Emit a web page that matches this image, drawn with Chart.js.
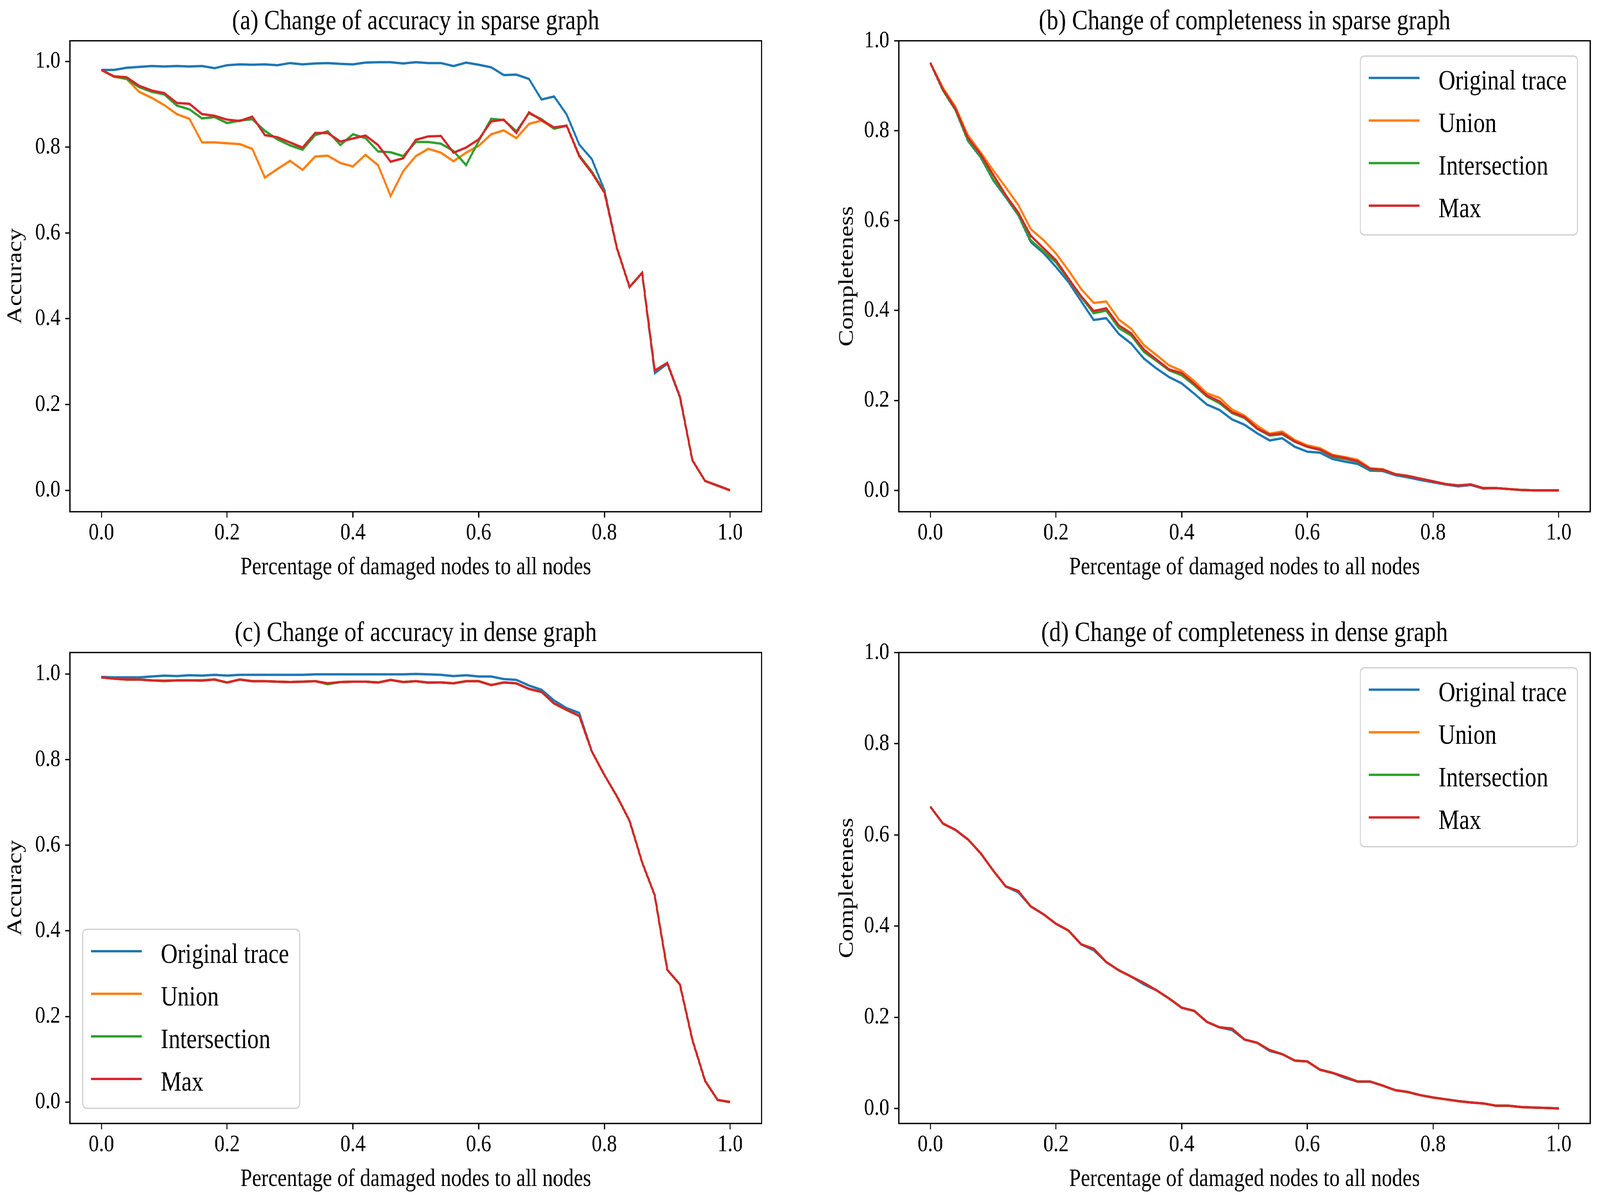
<!DOCTYPE html>
<html>
<head>
<meta charset="utf-8">
<script src="https://cdn.jsdelivr.net/npm/chart.js@4.4.1/dist/chart.umd.min.js"></script>
<style>
  html, body { margin: 0; padding: 0; background: #fff; overflow: hidden; }
  #page { position: absolute; left: 0; top: 0; width: 4895px; height: 3077px; background: #fff; transform-origin: 0 0; }
  canvas { position: absolute; }
</style>
</head>
<body>
<div id="page">
  <canvas id="panelA" width="2440" height="1560" style="left:0px;top:0px"></canvas>
  <canvas id="panelB" width="2455" height="1560" style="left:2440px;top:0px"></canvas>
  <canvas id="panelC" width="2440" height="1511" style="left:0px;top:1566px"></canvas>
  <canvas id="panelD" width="2455" height="1511" style="left:2440px;top:1566px"></canvas>
</div>
<script>
// fit the 4895 x 3077 page into the visible window
const scaleX = window.innerWidth / 4895;
const scaleY = window.innerHeight / 3077;
document.getElementById("page").style.transform = `scale(${scaleX}, ${scaleY})`;

// x values: share of damaged nodes
const damageRatio = [0.00, 0.02, 0.04, 0.06, 0.08, 0.10, 0.12, 0.14, 0.16, 0.18,
    0.20, 0.22, 0.24, 0.26, 0.28, 0.30, 0.32, 0.34, 0.36, 0.38,
    0.40, 0.42, 0.44, 0.46, 0.48, 0.50, 0.52, 0.54, 0.56, 0.58,
    0.60, 0.62, 0.64, 0.66, 0.68, 0.70, 0.72, 0.74, 0.76, 0.78,
    0.80, 0.82, 0.84, 0.86, 0.88, 0.90, 0.92, 0.94, 0.96, 0.98, 1.00];

const xTicks = [0.0, 0.2, 0.4, 0.6, 0.8, 1.0];
const yTicks = [0.0, 0.2, 0.4, 0.6, 0.8, 1.0];

const seriesNames = ["Original trace", "Union", "Intersection", "Max"];
const seriesColors = ["#1f77b4", "#ff7f0e", "#2ca02c", "#d62728"];

// (a) accuracy, sparse graph
const sparseAccOriginal = [0.980, 0.980, 0.985, 0.987, 0.989, 0.988, 0.989, 0.988, 0.989, 0.984,
    0.991, 0.993, 0.992, 0.993, 0.991, 0.996, 0.993, 0.995, 0.996, 0.994,
    0.993, 0.997, 0.998, 0.998, 0.995, 0.998, 0.996, 0.996, 0.989, 0.997,
    0.992, 0.986, 0.968, 0.969, 0.959, 0.911, 0.918, 0.876, 0.806, 0.772,
    0.700, 0.565, 0.474, 0.507, 0.273, 0.295, 0.217, 0.070, 0.022, 0.011, 0.000];
const sparseAccUnion = [0.980, 0.964, 0.959, 0.929, 0.915, 0.898, 0.877, 0.866, 0.811, 0.811,
    0.809, 0.807, 0.796, 0.729, 0.749, 0.768, 0.747, 0.778, 0.780, 0.763,
    0.755, 0.782, 0.758, 0.686, 0.744, 0.779, 0.796, 0.787, 0.767, 0.787,
    0.803, 0.830, 0.839, 0.821, 0.854, 0.862, 0.843, 0.850, 0.778, 0.741,
    0.694, 0.564, 0.474, 0.507, 0.279, 0.297, 0.219, 0.070, 0.022, 0.011, 0.000];
const sparseAccIntersection = [0.980, 0.965, 0.959, 0.940, 0.929, 0.923, 0.897, 0.888, 0.867, 0.870,
    0.856, 0.862, 0.865, 0.838, 0.818, 0.804, 0.794, 0.828, 0.837, 0.805,
    0.830, 0.821, 0.790, 0.788, 0.779, 0.812, 0.812, 0.808, 0.791, 0.758,
    0.814, 0.866, 0.863, 0.837, 0.879, 0.865, 0.843, 0.850, 0.781, 0.743,
    0.696, 0.564, 0.474, 0.507, 0.279, 0.297, 0.219, 0.070, 0.022, 0.011, 0.000];
const sparseAccMax = [0.980, 0.965, 0.963, 0.943, 0.932, 0.926, 0.903, 0.901, 0.877, 0.873,
    0.864, 0.861, 0.871, 0.828, 0.823, 0.811, 0.799, 0.833, 0.833, 0.813,
    0.820, 0.827, 0.805, 0.766, 0.774, 0.817, 0.825, 0.826, 0.787, 0.799,
    0.818, 0.860, 0.864, 0.833, 0.881, 0.863, 0.846, 0.850, 0.779, 0.740,
    0.694, 0.564, 0.474, 0.507, 0.279, 0.297, 0.219, 0.070, 0.022, 0.011, 0.000];

// (b) completeness, sparse graph
const sparseCompOriginal = [0.951, 0.890, 0.846, 0.777, 0.741, 0.690, 0.652, 0.612, 0.552, 0.528,
    0.497, 0.463, 0.421, 0.379, 0.383, 0.348, 0.326, 0.293, 0.271, 0.252,
    0.238, 0.215, 0.191, 0.179, 0.158, 0.146, 0.127, 0.111, 0.116, 0.097,
    0.086, 0.084, 0.070, 0.064, 0.059, 0.044, 0.043, 0.034, 0.029, 0.023,
    0.018, 0.013, 0.009, 0.012, 0.004, 0.005, 0.003, 0.001, 0.000, 0.000, 0.000];
const sparseCompUnion = [0.951, 0.896, 0.853, 0.790, 0.752, 0.712, 0.674, 0.635, 0.581, 0.557,
    0.527, 0.489, 0.448, 0.417, 0.420, 0.380, 0.359, 0.323, 0.301, 0.278,
    0.266, 0.243, 0.216, 0.206, 0.180, 0.166, 0.144, 0.126, 0.131, 0.112,
    0.100, 0.094, 0.079, 0.074, 0.068, 0.049, 0.047, 0.036, 0.032, 0.026,
    0.020, 0.014, 0.011, 0.013, 0.005, 0.005, 0.003, 0.001, 0.000, 0.000, 0.000];
const sparseCompIntersection = [0.951, 0.890, 0.846, 0.778, 0.743, 0.692, 0.654, 0.613, 0.556, 0.532,
    0.507, 0.469, 0.430, 0.394, 0.400, 0.361, 0.344, 0.308, 0.288, 0.267,
    0.256, 0.234, 0.209, 0.194, 0.172, 0.161, 0.137, 0.122, 0.125, 0.108,
    0.097, 0.090, 0.075, 0.070, 0.064, 0.047, 0.045, 0.036, 0.032, 0.026,
    0.020, 0.014, 0.011, 0.013, 0.005, 0.005, 0.003, 0.001, 0.000, 0.000, 0.000];
const sparseCompMax = [0.951, 0.892, 0.849, 0.784, 0.748, 0.702, 0.657, 0.618, 0.566, 0.539,
    0.512, 0.471, 0.432, 0.399, 0.405, 0.367, 0.349, 0.313, 0.291, 0.269,
    0.261, 0.237, 0.211, 0.198, 0.174, 0.163, 0.138, 0.124, 0.127, 0.109,
    0.097, 0.091, 0.077, 0.072, 0.065, 0.048, 0.046, 0.036, 0.032, 0.026,
    0.020, 0.014, 0.011, 0.013, 0.005, 0.005, 0.003, 0.001, 0.000, 0.000, 0.000];

// (c) accuracy, dense graph
const denseAccOriginal = [0.993, 0.992, 0.992, 0.992, 0.994, 0.996, 0.995, 0.997, 0.996, 0.998,
    0.996, 0.998, 0.998, 0.998, 0.998, 0.998, 0.998, 0.999, 0.999, 0.999,
    0.999, 0.999, 0.999, 0.999, 0.999, 1.000, 0.999, 0.998, 0.995, 0.997,
    0.994, 0.994, 0.988, 0.986, 0.973, 0.963, 0.938, 0.920, 0.909, 0.819,
    0.764, 0.714, 0.657, 0.560, 0.483, 0.309, 0.275, 0.145, 0.050, 0.005, 0.000];
const denseAccUnion = [0.992, 0.989, 0.987, 0.987, 0.985, 0.983, 0.985, 0.985, 0.984, 0.987,
    0.980, 0.987, 0.983, 0.983, 0.982, 0.981, 0.982, 0.983, 0.978, 0.981,
    0.982, 0.982, 0.980, 0.986, 0.981, 0.983, 0.979, 0.980, 0.978, 0.983,
    0.983, 0.974, 0.980, 0.978, 0.965, 0.958, 0.931, 0.916, 0.902, 0.819,
    0.764, 0.714, 0.657, 0.560, 0.483, 0.309, 0.275, 0.145, 0.050, 0.005, 0.000];
const denseAccIntersection = [0.992, 0.989, 0.987, 0.987, 0.985, 0.984, 0.985, 0.985, 0.985, 0.987,
    0.980, 0.987, 0.983, 0.983, 0.982, 0.981, 0.982, 0.983, 0.976, 0.981,
    0.982, 0.982, 0.980, 0.986, 0.981, 0.983, 0.980, 0.980, 0.978, 0.983,
    0.983, 0.974, 0.980, 0.978, 0.965, 0.958, 0.931, 0.916, 0.902, 0.819,
    0.764, 0.714, 0.657, 0.560, 0.483, 0.309, 0.275, 0.145, 0.050, 0.005, 0.000];
const denseAccMax = [0.992, 0.989, 0.987, 0.987, 0.985, 0.984, 0.985, 0.985, 0.985, 0.987,
    0.980, 0.987, 0.983, 0.983, 0.982, 0.981, 0.982, 0.983, 0.978, 0.981,
    0.982, 0.982, 0.980, 0.986, 0.981, 0.983, 0.980, 0.980, 0.978, 0.983,
    0.983, 0.974, 0.980, 0.978, 0.965, 0.958, 0.931, 0.916, 0.902, 0.819,
    0.764, 0.714, 0.657, 0.560, 0.483, 0.309, 0.275, 0.145, 0.050, 0.005, 0.000];

// (d) completeness, dense graph
const denseCompOriginal = [0.662, 0.625, 0.611, 0.590, 0.560, 0.522, 0.487, 0.474, 0.443, 0.426,
    0.405, 0.390, 0.360, 0.347, 0.321, 0.303, 0.289, 0.272, 0.259, 0.241,
    0.221, 0.214, 0.190, 0.178, 0.172, 0.151, 0.144, 0.126, 0.119, 0.105,
    0.103, 0.085, 0.078, 0.067, 0.059, 0.059, 0.050, 0.040, 0.036, 0.029,
    0.024, 0.020, 0.016, 0.013, 0.011, 0.006, 0.006, 0.003, 0.002, 0.001, 0.000];
const denseCompUnion = [0.662, 0.625, 0.611, 0.590, 0.560, 0.522, 0.487, 0.477, 0.443, 0.426,
    0.405, 0.390, 0.360, 0.350, 0.321, 0.303, 0.289, 0.275, 0.259, 0.241,
    0.221, 0.214, 0.190, 0.178, 0.175, 0.151, 0.144, 0.128, 0.119, 0.105,
    0.103, 0.085, 0.078, 0.069, 0.059, 0.059, 0.050, 0.040, 0.036, 0.029,
    0.024, 0.020, 0.016, 0.013, 0.011, 0.006, 0.006, 0.003, 0.002, 0.001, 0.000];
const denseCompIntersection = denseCompUnion;
const denseCompMax = [0.662, 0.625, 0.611, 0.590, 0.560, 0.522, 0.487, 0.477, 0.443, 0.426,
    0.405, 0.390, 0.360, 0.350, 0.321, 0.303, 0.289, 0.275, 0.259, 0.241,
    0.221, 0.214, 0.190, 0.178, 0.175, 0.151, 0.144, 0.128, 0.119, 0.105,
    0.103, 0.085, 0.078, 0.069, 0.059, 0.059, 0.050, 0.040, 0.036, 0.029,
    0.024, 0.020, 0.016, 0.013, 0.011, 0.006, 0.006, 0.003, 0.002, 0.001, 0.000];

const FONT = "'Liberation Serif', 'DejaVu Serif', serif";
const X_LABEL = "Percentage of damaged nodes to all nodes";

function toPoints(values) {
    return damageRatio.map((x, i) => ({ x: x, y: values[i] }));
}

// axes box drawn on top of the lines, like matplotlib spines
const framePlugin = {
    id: "frame",
    afterDatasetsDraw(chart) {
        const { ctx, chartArea: a } = chart;
        ctx.save();
        ctx.strokeStyle = "#000";
        ctx.lineWidth = 3.4;
        ctx.strokeRect(a.left, a.top, a.right - a.left, a.bottom - a.top);
        ctx.restore();
    }
};

// legend drawn inside the plot area
function insetLegend(corner) {
    return {
        id: "insetLegend",
        afterDraw(chart) {
            if (!corner) return;
            const { ctx, chartArea: a } = chart;
            const w = 664, h = 458, gap = 39;
            const left = corner === "upper right" ? a.right - gap - w : a.left + gap;
            const top = corner === "upper right" ? a.top + gap : a.bottom - gap - h;
            ctx.save();
            ctx.beginPath();
            ctx.roundRect(left, top, w, h, 12);
            ctx.fillStyle = "rgba(255,255,255,0.8)";
            ctx.fill();
            ctx.lineWidth = 3;
            ctx.strokeStyle = "#cccccc";
            ctx.stroke();
            ctx.font = "71px " + FONT;
            ctx.textBaseline = "alphabetic";
            ctx.textAlign = "left";
            seriesNames.forEach((name, i) => {
                const y = top + 56 + i * 109;
                ctx.beginPath();
                ctx.moveTo(left + 26, y);
                ctx.lineTo(left + 181, y);
                ctx.strokeStyle = seriesColors[i];
                ctx.lineWidth = 6;
                ctx.stroke();
                ctx.fillStyle = "#000";
                ctx.fillText(name, left + 239, y + 30);
            });
            ctx.restore();
        }
    };
}

function makePanel(p) {
    const datasets = p.series.map((values, i) => ({
        label: seriesNames[i],
        data: toPoints(values),
        borderColor: seriesColors[i],
        backgroundColor: seriesColors[i],
        borderWidth: 6,
        pointRadius: 0,
        tension: 0,
        fill: false,
        order: 4 - i
    }));

    new Chart(document.getElementById(p.id), {
        type: "line",
        data: { datasets: datasets },
        plugins: [framePlugin, insetLegend(p.legend)],
        options: {
            responsive: false,
            animation: false,
            devicePixelRatio: 1,
            layout: { padding: { left: 0, top: 0, bottom: 0, right: p.padRight } },
            plugins: {
                legend: { display: false },
                tooltip: { enabled: false },
                title: {
                    display: true,
                    text: p.title,
                    fullSize: false,
                    color: "#000",
                    font: { family: FONT, size: 72, weight: "normal", lineHeight: 1.2 },
                    padding: { top: 13, bottom: 5 }
                }
            },
            scales: {
                x: {
                    type: "linear",
                    min: -0.05,
                    max: 1.05,
                    afterBuildTicks: (s) => { s.ticks = xTicks.map(v => ({ value: v })); },
                    afterFit: (s) => { s.height = p.xAxisHeight; },
                    border: { display: false },
                    grid: { drawOnChartArea: false, drawTicks: true, tickLength: 15, tickWidth: 3.4, tickColor: "#000" },
                    ticks: {
                        color: "#000",
                        padding: 3,
                        maxRotation: 0,
                        autoSkip: false,
                        font: { family: FONT, size: 62 },
                        callback: (v) => v.toFixed(1)
                    },
                    title: {
                        display: true,
                        text: X_LABEL,
                        color: "#000",
                        font: { family: FONT, size: 64, lineHeight: 1.2 },
                        padding: { top: 0, bottom: p.xTitlePad }
                    }
                },
                y: {
                    type: "linear",
                    min: p.yMin,
                    max: p.yMax,
                    afterBuildTicks: (s) => { s.ticks = yTicks.map(v => ({ value: v })); },
                    afterFit: (s) => { s.width = p.yAxisWidth; },
                    border: { display: false },
                    grid: { drawOnChartArea: false, drawTicks: true, tickLength: 15, tickWidth: 3.4, tickColor: "#000" },
                    ticks: {
                        color: "#000",
                        padding: 14,
                        autoSkip: false,
                        font: { family: FONT, size: 62 },
                        callback: (v) => v.toFixed(1)
                    },
                    title: {
                        display: true,
                        text: p.yTitle,
                        color: "#000",
                        font: { family: FONT, size: 64, lineHeight: 1.2 },
                        padding: { top: p.yTitlePad, bottom: 0 }
                    }
                }
            }
        }
    });
}

makePanel({
    id: "panelA",
    title: "(a) Change of accuracy in sparse graph",
    yTitle: "Accuracy",
    series: [sparseAccOriginal, sparseAccUnion, sparseAccIntersection, sparseAccMax],
    yMin: -0.0499, yMax: 1.0479,
    yAxisWidth: 214, yTitlePad: 10, padRight: 110,
    xAxisHeight: 250, xTitlePad: 68,
    legend: null
});

makePanel({
    id: "panelB",
    title: "(b) Change of completeness in sparse graph",
    yTitle: "Completeness",
    series: [sparseCompOriginal, sparseCompUnion, sparseCompIntersection, sparseCompMax],
    yMin: -0.0475, yMax: 1.0,
    yAxisWidth: 310, yTitlePad: 114, padRight: 30,
    xAxisHeight: 250, xTitlePad: 68,
    legend: "upper right"
});

makePanel({
    id: "panelC",
    title: "(c) Change of accuracy in dense graph",
    yTitle: "Accuracy",
    series: [denseAccOriginal, denseAccUnion, denseAccIntersection, denseAccMax],
    yMin: -0.05, yMax: 1.05,
    yAxisWidth: 214, yTitlePad: 10, padRight: 110,
    xAxisHeight: 201, xTitlePad: 19,
    legend: "lower left"
});

makePanel({
    id: "panelD",
    title: "(d) Change of completeness in dense graph",
    yTitle: "Completeness",
    series: [denseCompOriginal, denseCompUnion, denseCompIntersection, denseCompMax],
    yMin: -0.033, yMax: 1.0,
    yAxisWidth: 310, yTitlePad: 114, padRight: 30,
    xAxisHeight: 201, xTitlePad: 19,
    legend: "upper right"
});
</script>
</body>
</html>
